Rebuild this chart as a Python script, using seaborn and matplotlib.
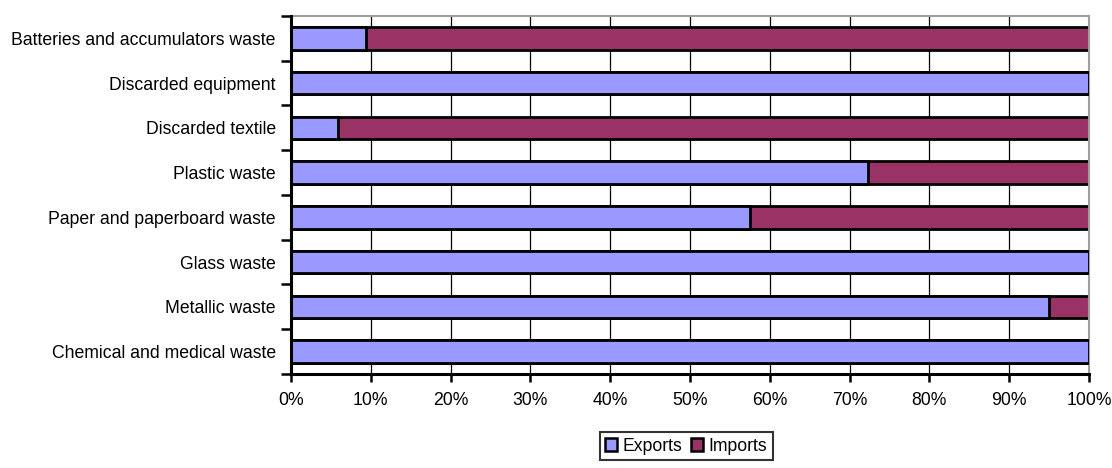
import matplotlib
matplotlib.use("Agg")
import matplotlib.pyplot as plt
from matplotlib.patches import Patch
from matplotlib.ticker import FixedLocator, PercentFormatter
import numpy as np
import pandas as pd
import seaborn as sns

categories = [
    "Batteries and accumulators waste",
    "Discarded equipment",
    "Discarded textile",
    "Plastic waste",
    "Paper and paperboard waste",
    "Glass waste",
    "Metallic waste",
    "Chemical and medical waste",
]
exports = [9.4, 100.0, 5.9, 72.3, 57.5, 100.0, 95.0, 100.0]
imports = [90.6, 0.0, 94.1, 27.7, 42.5, 0.0, 5.0, 0.0]
x_ticks = [0, 10, 20, 30, 40, 50, 60, 70, 80, 90, 100]

EXPORT_COLOR = "#9999FF"
IMPORT_COLOR = "#993366"
FONT_SIZE = 12.7

df = pd.DataFrame({"category": categories, "Exports": exports, "Imports": imports})
df["total"] = df["Exports"] + df["Imports"]

sns.set_style("white")
plt.rcParams["font.family"] = ["Liberation Sans", "DejaVu Sans"]
plt.rcParams["text.color"] = "black"
plt.rcParams["xtick.labelcolor"] = "black"
plt.rcParams["ytick.labelcolor"] = "black"

fig = plt.figure(figsize=(11.12, 4.68), dpi=100)
ax = fig.add_axes([0.2617, 0.2009, 0.7176, 0.7650])

# Vertical gridlines behind the bars
for v in x_ticks[1:-1]:
    ax.axvline(v, color="black", lw=0.9, zorder=0)

# Stacked horizontal bars: full length in import colour, exports drawn over it
sns.barplot(data=df, y="category", x="total", orient="h", color=IMPORT_COLOR,
            saturation=1, width=0.5, edgecolor="black", linewidth=2.0, ax=ax, zorder=2)
sns.barplot(data=df, y="category", x="Exports", orient="h", color=EXPORT_COLOR,
            saturation=1, width=0.5, edgecolor="black", linewidth=2.0, ax=ax, zorder=3)

ax.set_xlim(0, 100)
ax.set_ylim(len(categories) - 0.5, -0.5)
ax.set_xlabel("")
ax.set_ylabel("")

ax.xaxis.set_major_locator(FixedLocator(x_ticks))
ax.xaxis.set_major_formatter(PercentFormatter(decimals=0))
ax.tick_params(axis="x", which="major", direction="out", length=6, width=1.8,
               color="black", labelsize=FONT_SIZE, pad=7, bottom=True)

ax.set_yticks(np.arange(len(categories)))
ax.set_yticklabels(categories)
ax.tick_params(axis="y", which="major", length=0, labelsize=FONT_SIZE, pad=11, left=False)
ax.yaxis.set_minor_locator(FixedLocator(np.arange(-0.5, len(categories), 1.0)))
ax.tick_params(axis="y", which="minor", direction="out", length=7, width=1.8,
               color="black", left=True)

for side in ("left", "bottom"):
    ax.spines[side].set_visible(True)
    ax.spines[side].set_color("black")
    ax.spines[side].set_linewidth(2.2)
    ax.spines[side].set_zorder(5)
for side in ("top", "right"):
    ax.spines[side].set_visible(True)
    ax.spines[side].set_color("#A0A0A0")
    ax.spines[side].set_linewidth(1.5)

handles = [
    Patch(facecolor=EXPORT_COLOR, edgecolor="black", linewidth=1.8, label="Exports"),
    Patch(facecolor=IMPORT_COLOR, edgecolor="black", linewidth=1.8, label="Imports"),
]
leg = fig.legend(handles=handles, loc="center", bbox_to_anchor=(0.617, 0.047),
                 ncol=2, frameon=True, fancybox=False, fontsize=FONT_SIZE,
                 handlelength=0.7, handleheight=0.7, handletextpad=0.3,
                 columnspacing=0.5, borderpad=0.3, borderaxespad=0)
leg.get_frame().set_edgecolor("black")
leg.get_frame().set_linewidth(1.5)

fig.savefig("out.png", dpi=100)
